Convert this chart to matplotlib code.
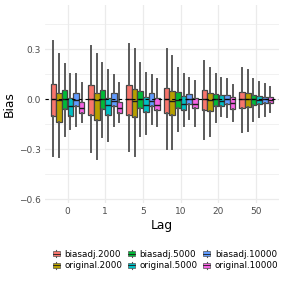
import matplotlib
matplotlib.use("Agg")
import matplotlib.pyplot as plt
from matplotlib.legend_handler import HandlerBase
from matplotlib.patches import Rectangle, Patch
from matplotlib.lines import Line2D
import numpy as np

lags = ["0", "1", "5", "10", "20", "50"]
series = ["biasadj.2000", "original.2000", "biasadj.5000",
          "original.5000", "biasadj.10000", "original.10000"]
colors = ["#F8766D", "#B79F00", "#00BA38", "#00BFC4", "#619CFF", "#F564E3"]

hi = [[0.35, 0.32, 0.33, 0.30, 0.23, 0.185],
      [0.27, 0.27, 0.30, 0.26, 0.19, 0.175],
      [0.21, 0.22, 0.22, 0.19, 0.15, 0.124],
      [0.15, 0.175, 0.156, 0.15, 0.13, 0.104],
      [0.15, 0.144, 0.144, 0.13, 0.12, 0.09],
      [0.10, 0.10, 0.12, 0.11, 0.084, 0.076]]
q3 = [[0.09, 0.085, 0.085, 0.07, 0.054, 0.044],
      [0.035, 0.035, 0.06, 0.048, 0.036, 0.04],
      [0.054, 0.054, 0.048, 0.042, 0.03, 0.026],
      [0.006, 0.01, 0.012, 0.018, 0.024, 0.02],
      [0.035, 0.035, 0.035, 0.03, 0.024, 0.016],
      [-0.015, -0.015, 0.006, 0.01, 0.012, 0.014]]
med = [[0.0, 0.0, 0.0, 0.0, 0.0, 0.0],
       [-0.005, -0.005, -0.01, -0.01, -0.005, 0.0],
       [0.0, 0.0, 0.0, -0.005, 0.0, 0.0],
       [-0.04, -0.036, -0.036, -0.03, -0.01, -0.005],
       [-0.005, -0.01, -0.01, 0.0, 0.0, 0.0],
       [-0.055, -0.055, -0.036, -0.03, -0.024, -0.005]]
q1 = [[-0.10, -0.095, -0.095, -0.086, -0.066, -0.056],
      [-0.14, -0.125, -0.11, -0.096, -0.07, -0.05],
      [-0.06, -0.06, -0.054, -0.054, -0.04, -0.036],
      [-0.10, -0.096, -0.08, -0.066, -0.04, -0.03],
      [-0.04, -0.04, -0.04, -0.03, -0.03, -0.02],
      [-0.085, -0.085, -0.066, -0.056, -0.06, -0.024]]
lo = [[-0.34, -0.32, -0.31, -0.30, -0.24, -0.20],
      [-0.35, -0.36, -0.34, -0.30, -0.22, -0.19],
      [-0.22, -0.23, -0.22, -0.19, -0.14, -0.13],
      [-0.18, -0.25, -0.21, -0.16, -0.10, -0.11],
      [-0.16, -0.16, -0.15, -0.12, -0.11, -0.10],
      [-0.14, -0.14, -0.16, -0.16, -0.13, -0.08]]

yticks = [-0.6, -0.3, 0.0, 0.3]
ytick_labels = ["\u22120.6", "\u22120.3", "0.0", "0.3"]

fig = plt.figure(figsize=(2.84, 2.84), dpi=100)
ax = fig.add_axes([0.158, 0.285, 0.824, 0.697])
ax.set_facecolor("white")

grid_c = "#EBEBEB"
dodge = 0.9
n = len(series)
slot = dodge / n
bw = slot * 0.98
for i in range(n):
    stats = []
    for j in range(len(lags)):
        stats.append(dict(med=med[i][j], q1=q1[i][j], q3=q3[i][j],
                          whislo=lo[i][j], whishi=hi[i][j], fliers=[]))
    pos = np.arange(len(lags)) - dodge / 2 + slot * (i + 0.5)
    ax.bxp(stats, positions=pos, widths=bw, patch_artist=True,
           showcaps=False, showfliers=False, manage_ticks=False,
           boxprops=dict(facecolor=colors[i], edgecolor="#444444", linewidth=0.9),
           whiskerprops=dict(color="#5a5a5a", linewidth=1.4),
           medianprops=dict(color="#1a1a1a", linewidth=1.0), zorder=3)

ax.axhline(0, color="black", linestyle=(0, (3, 3)), linewidth=0.8, zorder=4)

ax.set_xlim(-0.6, len(lags) - 0.4)
ax.set_ylim(-0.624, 0.565)
ax.set_xticks(range(len(lags)))
ax.set_xticklabels(lags)
ax.set_yticks(yticks)
ax.set_yticklabels(ytick_labels)
ax.set_yticks([-0.45, -0.15, 0.15, 0.45], minor=True)
ax.grid(True, which="major", color=grid_c, linewidth=0.9, zorder=0)
ax.grid(True, which="minor", axis="y", color=grid_c, linewidth=0.5, zorder=0)
ax.set_axisbelow(True)
for s in ax.spines.values():
    s.set_visible(False)
ax.tick_params(axis="both", which="both", length=0, labelsize=6.5,
               labelcolor="#4D4D4D", pad=3)
ax.set_xlabel("Lag", fontsize=8.8, labelpad=2)
ax.set_ylabel("Bias", fontsize=8.8, labelpad=2)


class BoxKey(HandlerBase):
    def create_artists(self, legend, orig, xdescent, ydescent, width, height,
                       fontsize, trans):
        c = orig.get_facecolor()
        x0 = -xdescent
        y0 = -ydescent
        cx = x0 + width / 2
        arts = []
        arts.append(Line2D([cx, cx], [y0, y0 + height], color="#555555",
                           linewidth=0.8, transform=trans))
        r = Rectangle((x0 + width * 0.05, y0 + height * 0.12), width * 0.9,
                      height * 0.76, facecolor=c, edgecolor="#555555",
                      linewidth=0.5, transform=trans)
        arts.append(r)
        arts.append(Line2D([x0 + width * 0.05, x0 + width * 0.95],
                           [y0 + height / 2, y0 + height / 2],
                           color="#1a1a1a", linewidth=0.6, transform=trans))
        return arts


handles = [Patch(facecolor=colors[i]) for i in range(n)]
leg = fig.legend(handles, series, ncol=3, loc="center",
                 bbox_to_anchor=(0.583, 0.0845), frameon=False, fontsize=6.3,
                 handler_map={Patch: BoxKey()}, handlelength=0.85,
                 handleheight=0.9, handletextpad=0.5, columnspacing=0.6,
                 labelspacing=0.3)

fig.savefig("out.png", dpi=100, facecolor="white")
